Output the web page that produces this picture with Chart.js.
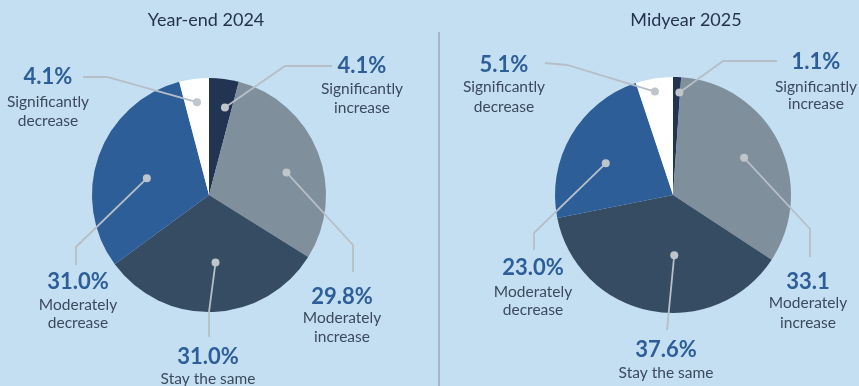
<!DOCTYPE html>
<html>
<head>
<meta charset="utf-8">
<script src="https://cdn.jsdelivr.net/npm/chart.js@4.4.1/dist/chart.umd.min.js"></script>
<style>
  html, body { margin: 0; padding: 0; background: #c4def2; }
  #wrap { position: relative; width: 859px; height: 386px; overflow: hidden; }
  #wrap canvas { position: absolute; left: 0; top: 0; }
  #divider { position: absolute; left: 438px; top: 32px; bottom: 0; width: 2px; background: #a4b8c9; }
</style>
</head>
<body>
<div id="wrap">
  <canvas id="chart-2024" width="859" height="386"></canvas>
  <div id="divider"></div>
  <canvas id="chart-2025" width="859" height="386"></canvas>
</div>
<script>
// Données
const categories = ['Significantly increase', 'Moderately increase', 'Stay the same', 'Moderately decrease', 'Significantly decrease'];
const categoryLines = [['Significantly', 'increase'], ['Moderately', 'increase'], ['Stay the same'], ['Moderately', 'decrease'], ['Significantly', 'decrease']];
const yearEnd2024 = [4.1, 29.8, 31.0, 31.0, 4.1];
const midyear2025 = [1.1, 33.1, 37.6, 23.0, 5.1];
const labels2024 = ['4.1%', '29.8%', '31.0%', '31.0%', '4.1%'];
const labels2025 = ['1.1%', '33.1', '37.6%', '23.0%', '5.1%'];

const sliceColors = ['#233352', '#7f8f9c', '#364c63', '#2e5e98', '#ffffff'];

// Mise en page des étiquettes (relative au centre du camembert)
// t : position dans l'angle de la part, rf : fraction du rayon
const layout2024 = [
    { t: 0.70, rf: 0.76, path: [[76, -129], [123, -129]], tx: 153, py: -129, ly: [-106, -87] },
    { t: 0.55, rf: 0.69, path: [[144, 50], [144, 77]], tx: 133, py: 102, ly: [123, 142] },
    { t: 0.47, rf: 0.58, path: [[0, 117], [0, 142]], tx: -1, py: 162, ly: [184] },
    { t: 0.46, rf: 0.55, path: [[-133, 52], [-133, 70]], tx: -131, py: 87, ly: [110, 128] },
    { t: 0.50, rf: 0.80, path: [[-102, -118], [-126, -118]], tx: -161, py: -118, ly: [-93, -74] }
];
const layout2025 = [
    { t: 0.90, rf: 0.87, path: [[50, -134], [104, -134]], tx: 143, py: -133, ly: [-108, -91] },
    { t: 0.49, rf: 0.68, path: [[137, 34], [137, 62]], tx: 135, py: 87, ly: [108, 128] },
    { t: 0.41, rf: 0.51, path: [[-6, 135]], tx: -7, py: 155, ly: [178] },
    { t: 0.44, rf: 0.63, path: [[-139, 38], [-139, 55]], tx: -140, py: 73, ly: [97, 115] },
    { t: 0.46, rf: 0.89, path: [[-106, -130], [-128, -132]], tx: -169, py: -130, ly: [-108, -88] }
];

const FONT = 'Lato, "Open Sans", sans-serif';

/**
 * Plugin : titre, lignes de rappel et étiquettes
 */
const calloutPlugin = {
    id: 'callouts',
    afterDatasetsDraw(chart) {
        const opts = chart.options.plugins.callouts;
        const meta = chart.getDatasetMeta(0);
        const ctx = chart.ctx;
        const first = meta.data[0].getProps(['x', 'y'], true);
        const cx = first.x, cy = first.y;

        ctx.save();
        // Titre
        ctx.fillStyle = '#25344c';
        ctx.font = '18px ' + FONT;
        ctx.textAlign = 'center';
        ctx.textBaseline = 'middle';
        ctx.fillText(opts.title, cx + opts.titleDx, 20);

        meta.data.forEach((arc, i) => {
            const p = arc.getProps(['startAngle', 'endAngle', 'outerRadius'], true);
            const lay = opts.layout[i];
            const a = p.startAngle + lay.t * (p.endAngle - p.startAngle);
            const dx = cx + Math.cos(a) * p.outerRadius * lay.rf;
            const dy = cy + Math.sin(a) * p.outerRadius * lay.rf;

            // Ligne de rappel
            ctx.strokeStyle = '#b6bfc7';
            ctx.lineWidth = 1.8;
            ctx.beginPath();
            ctx.moveTo(dx, dy);
            lay.path.forEach(pt => ctx.lineTo(cx + pt[0], cy + pt[1]));
            ctx.stroke();

            // Point
            ctx.fillStyle = '#bec5cb';
            ctx.beginPath();
            ctx.arc(dx, dy, 4, 0, Math.PI * 2);
            ctx.fill();

            // Pourcentage
            ctx.fillStyle = '#2e5e98';
            ctx.font = 'bold 22px ' + FONT;
            ctx.fillText(opts.valueLabels[i], cx + lay.tx, cy + lay.py);

            // Catégorie
            ctx.fillStyle = '#3c4a5e';
            ctx.font = '15.5px ' + FONT;
            categoryLines[i].forEach((line, j) => {
                ctx.fillText(line, cx + lay.tx, cy + lay.ly[j]);
            });
        });
        ctx.restore();
    }
};

function createPie(canvasId, values, valueLabels, layout, title, titleDx, padding) {
    const ctx = document.getElementById(canvasId);
    return new Chart(ctx, {
        type: 'pie',
        data: {
            labels: categories,
            datasets: [{
                data: values,
                backgroundColor: sliceColors,
                borderWidth: 0,
                hoverOffset: 0
            }]
        },
        options: {
            responsive: false,
            animation: false,
            events: [],
            layout: { padding: padding },
            plugins: {
                legend: { display: false },
                tooltip: { enabled: false },
                callouts: { layout: layout, valueLabels: valueLabels, title: title, titleDx: titleDx }
            }
        },
        plugins: [calloutPlugin]
    });
}

createPie('chart-2024', yearEnd2024, labels2024, layout2024, 'Year-end 2024', -3,
    { left: 92, right: 533, top: 78, bottom: 74 });
createPie('chart-2025', midyear2025, labels2025, layout2025, 'Midyear 2025', 13,
    { left: 555, right: 68, top: 77, bottom: 73 });
</script>
</body>
</html>
